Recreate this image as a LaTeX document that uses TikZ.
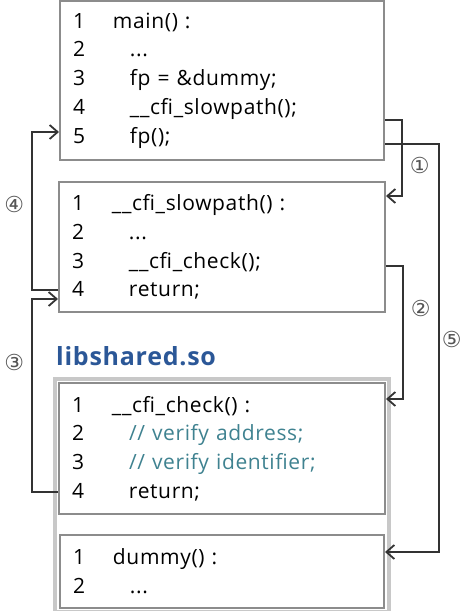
\documentclass[tikz,border=0pt]{standalone}
\usepackage{fontspec}
\setmainfont[LetterSpace=3, WordSpace=1.6]{Open Sans}
\newfontfamily\circfont{DejaVu Sans}
\usetikzlibrary{positioning, arrows.meta, fit}
\definecolor{boxGrey}{HTML}{8C8C8C}
\definecolor{libGrey}{HTML}{C8C8C8}
\definecolor{flowDark}{HTML}{333333}
\definecolor{libBlue}{HTML}{2B5797}
\definecolor{cmtTeal}{HTML}{3F8290}
\definecolor{numGrey}{HTML}{555555}
\newcommand{\cnum}[1]{\makebox[40pt][l]{#1}}
\newcommand{\cind}{\hspace*{17pt}}

\begin{document}
\begin{tikzpicture}[x=1pt, y=1pt,
    codebox/.style={draw=boxGrey, line width=2pt, align=left, inner xsep=13pt,
      font=\fontsize{21}{28.7}\selectfont, text=black},
    flow/.style={-{Straight Barb[length=8pt, width=14pt]}, line width=1.8pt, flowDark},
    stepnum/.style={font=\circfont\fontsize{22}{22}\selectfont, text=numGrey, inner sep=1pt}]
    \useasboundingbox (0,0) rectangle (465,611);
    \node[codebox, minimum width=324pt, minimum height=159pt, text width=298pt] (main)
      at (222,530.5)
      {\cnum{1}main() :\\
       \cnum{2}\cind...\\
       \cnum{3}\cind fp = \&dummy;\\
       \cnum{4}\cind\_\_cfi\_slowpath();\\
       \cnum{5}\cind fp();};
    \node[codebox, minimum width=326pt, minimum height=130pt, text width=300pt,
          below=20pt of main] (slow)
      {\cnum{1}\_\_cfi\_slowpath() :\\
       \cnum{2}\cind...\\
       \cnum{3}\cind\_\_cfi\_check();\\
       \cnum{4}\cind return;};
    \node[codebox, minimum width=326pt, minimum height=131pt, text width=300pt,
          below=69pt of slow] (chk)
      {\cnum{1}\_\_cfi\_check() :\\
       \cnum{2}\cind\textcolor{cmtTeal}{// verify address;}\\
       \cnum{3}\cind\textcolor{cmtTeal}{// verify identifier;}\\
       \cnum{4}\cind return;};
    \node[codebox, minimum width=324pt, minimum height=73pt, text width=298pt,
          below=19pt of chk] (dummy)
      {\cnum{1}dummy() :\\
       \cnum{2}\cind...};
    \node[draw=libGrey, line width=4pt, fit=(chk)(dummy), inner sep=3pt] (lib) {};
    \node[inner sep=0pt, font=\fontsize{25}{25}\selectfont\bfseries, text=libBlue,
          above right=11pt and 3pt of lib.north west] (libname) {libshared.so};
    % calls and returns
    \draw[flow] ([yshift=-39.5pt]main.east) -- ++(17pt,0)
      |- node[stepnum, right=6pt, pos=0.3] (s1) {①} ([yshift=51pt]slow.east);
    \draw[flow] ([yshift=-19pt]slow.east) -- ++(17pt,0)
      |- node[stepnum, right=6pt, pos=0.16] (s2) {②} ([yshift=49.5pt]chk.east);
    \draw[flow] ([yshift=-43.5pt]chk.west) -- ++(-26pt,0)
      |- node[stepnum, left=6pt, pos=0.335] (s3) {③} ([yshift=-52pt]slow.west);
    \draw[flow] ([yshift=-43pt]slow.west) -- ++(-26pt,0)
      |- node[stepnum, left=6pt, pos=0.27] (s4) {④} ([yshift=-51.5pt]main.west);
    \draw[flow] ([yshift=-63.5pt]main.east) -- ++(54pt,0)
      |- node[stepnum, right=1pt, pos=0.24] (s5) {⑤} ([yshift=19.5pt]dummy.east);
\end{tikzpicture}
\end{document}
